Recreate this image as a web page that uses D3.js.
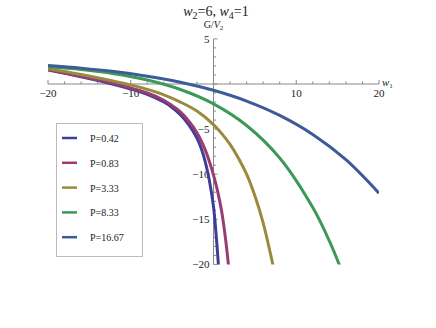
<!DOCTYPE html>
<html>
<head>
<meta charset="utf-8">
<script src="https://cdn.jsdelivr.net/npm/d3@7"></script>
<style>
  body { margin: 0; background: #fff; }
  text { font-family: "Liberation Serif", "Times New Roman", serif; fill: #222; }
</style>
</head>
<body>
<svg width="436" height="328"></svg>
<script>
// series: w1 values and G/V2 values
var labels = ["P=0.42", "P=0.83", "P=3.33", "P=8.33", "P=16.67"];
var colors = ["#3f3d99", "#993d71", "#998b3d", "#3d9956", "#3d5b99"];

var w_p042 = [-20, -16, -12, -10, -8, -6, -5, -4, -3, -2, -1.5, -1, -0.5, 0, 0.3, 0.6, 0.7];
var g_p042 = [1.55, 0.8, -0.05, -0.55, -1.15, -2.0, -2.6, -3.4, -4.5, -6.0, -7.1, -8.6, -10.7, -13.6, -16.5, -20.1, -21.2];

var w_p083 = [-20, -16, -12, -10, -8, -6, -5, -4, -3, -2, -1, -0.5, 0, 0.5, 1, 1.5, 1.8, 1.9];
var g_p083 = [1.6, 0.85, 0.05, -0.45, -1.0, -1.8, -2.4, -3.1, -4.1, -5.4, -7.3, -8.6, -10.1, -11.9, -14.2, -17.5, -20, -20.9];

var w_p333 = [-20, -16, -12, -10, -8, -6, -4, -2, 0, 1, 2, 3, 4, 5, 6, 7, 7.3];
var g_p333 = [1.7, 1.05, 0.3, -0.1, -0.6, -1.2, -2.0, -3.0, -4.5, -5.5, -6.7, -8.2, -10.0, -12.4, -15.4, -19.3, -20.6];

var w_p833 = [-20, -16, -12, -8, -4, 0, 4, 8, 12, 14, 16];
var g_p833 = [1.9, 1.6, 1.13, 0.44, -0.61, -2.2, -4.6, -8.2, -13.7, -17.4, -21.9];

var w_p1667 = [-20, -16, -12, -8, -4, 0, 4, 8, 12, 16, 20];
var g_p1667 = [2.05, 1.76, 1.38, 0.87, 0.2, -0.7, -1.89, -3.48, -5.59, -8.39, -12.1];

var xTicksMajor = [-20, -10, 10, 20];
var yTicksMajor = [5, -5, -10, -15, -20];

var series = [
  d3.zip(w_p042, g_p042),
  d3.zip(w_p083, g_p083),
  d3.zip(w_p333, g_p333),
  d3.zip(w_p833, g_p833),
  d3.zip(w_p1667, g_p1667)
];

var svg = d3.select("svg");
var x = d3.scaleLinear().domain([-20, 20]).range([48, 379]);
var y = d3.scaleLinear().domain([-20, 5]).range([264.4, 38.9]);
var axisColor = "#888";

// clip the curves to the plot range
svg.append("clipPath").attr("id", "plot")
  .append("rect")
    .attr("x", x(-20)).attr("y", y(5))
    .attr("width", x(20) - x(-20)).attr("height", y(-20) - y(5));

// x axis: ticks point up, labels below
var xAxis = svg.append("g");
xAxis.append("line")
    .attr("x1", x(-20)).attr("x2", x(20))
    .attr("y1", y(0)).attr("y2", y(0))
    .style("stroke", axisColor);
xAxis.selectAll("line.minor").data(d3.range(-20, 21, 2)).enter().append("line")
    .attr("class", "minor")
    .attr("x1", function(d) {return x(d);}).attr("x2", function(d) {return x(d);})
    .attr("y1", y(0)).attr("y2", function(d) {return y(0) - (d % 10 == 0 ? 4 : 2.5);})
    .style("stroke", axisColor);
xAxis.selectAll("text").data(xTicksMajor).enter().append("text")
    .attr("x", function(d) {return x(d);})
    .attr("y", y(0) + 13)
    .style("text-anchor", "middle")
    .style("font-size", "11px")
    .text(function(d) {return d < 0 ? "\u2212" + (-d) : d;});

// y axis: ticks point right, labels left
var yAxis = svg.append("g");
yAxis.append("line")
    .attr("x1", x(0)).attr("x2", x(0))
    .attr("y1", y(5)).attr("y2", y(-20))
    .style("stroke", axisColor);
yAxis.selectAll("line.minor").data(d3.range(-20, 6, 1)).enter().append("line")
    .attr("class", "minor")
    .attr("x1", x(0)).attr("x2", function(d) {return x(0) + (d % 5 == 0 ? 4 : 2.5);})
    .attr("y1", function(d) {return y(d);}).attr("y2", function(d) {return y(d);})
    .style("stroke", axisColor);
yAxis.selectAll("text").data(yTicksMajor).enter().append("text")
    .attr("x", x(0) - 4)
    .attr("y", function(d) {return y(d) + 4;})
    .style("text-anchor", "end")
    .style("font-size", "11px")
    .text(function(d) {return d < 0 ? "\u2212" + (-d) : d;});

// curves
var line = d3.line()
    .x(function(d) {return x(d[0]);})
    .y(function(d) {return y(d[1]);})
    .curve(d3.curveCatmullRom.alpha(0.5));
svg.append("g").attr("clip-path", "url(#plot)")
  .selectAll("path").data(series).enter().append("path")
    .attr("d", line)
    .style("fill", "none")
    .style("stroke", function(d, i) {return colors[i];})
    .style("stroke-width", 3);

// titles
var title = svg.append("text")
    .attr("x", 216).attr("y", 16)
    .style("text-anchor", "middle")
    .style("font-size", "14px");
title.append("tspan").style("font-style", "italic").text("w");
title.append("tspan").attr("baseline-shift", "-25%").style("font-size", "10px").text("2");
title.append("tspan").text("=6, ");
title.append("tspan").style("font-style", "italic").text("w");
title.append("tspan").attr("baseline-shift", "-25%").style("font-size", "10px").text("4");
title.append("tspan").text("=1");

var ylab = svg.append("text")
    .attr("x", x(0)).attr("y", 28)
    .style("text-anchor", "middle")
    .style("font-size", "10px");
ylab.append("tspan").text("G/");
ylab.append("tspan").style("font-style", "italic").text("V");
ylab.append("tspan").attr("baseline-shift", "-25%").style("font-size", "7px").text("2");

var xlab = svg.append("text")
    .attr("x", 382).attr("y", 86)
    .style("font-size", "11px");
xlab.append("tspan").style("font-style", "italic").text("w");
xlab.append("tspan").attr("baseline-shift", "-25%").style("font-size", "7px").text("1");

// legend
var legend = svg.append("g");
legend.append("rect")
    .attr("x", 56.5).attr("y", 123.5).attr("width", 86).attr("height", 133)
    .style("fill", "#fff").style("stroke", "#bbb");
var entries = legend.selectAll("g").data(labels).enter().append("g")
    .attr("transform", function(d, i) {return "translate(0," + (138 + i * 24.8) + ")";});
entries.append("line")
    .attr("x1", 62).attr("x2", 77)
    .style("stroke", function(d, i) {return colors[i];})
    .style("stroke-width", 2.5);
entries.append("text")
    .attr("x", 90).attr("y", 4)
    .style("font-size", "10px")
    .text(function(d) {return d;});
</script>
</body>
</html>
